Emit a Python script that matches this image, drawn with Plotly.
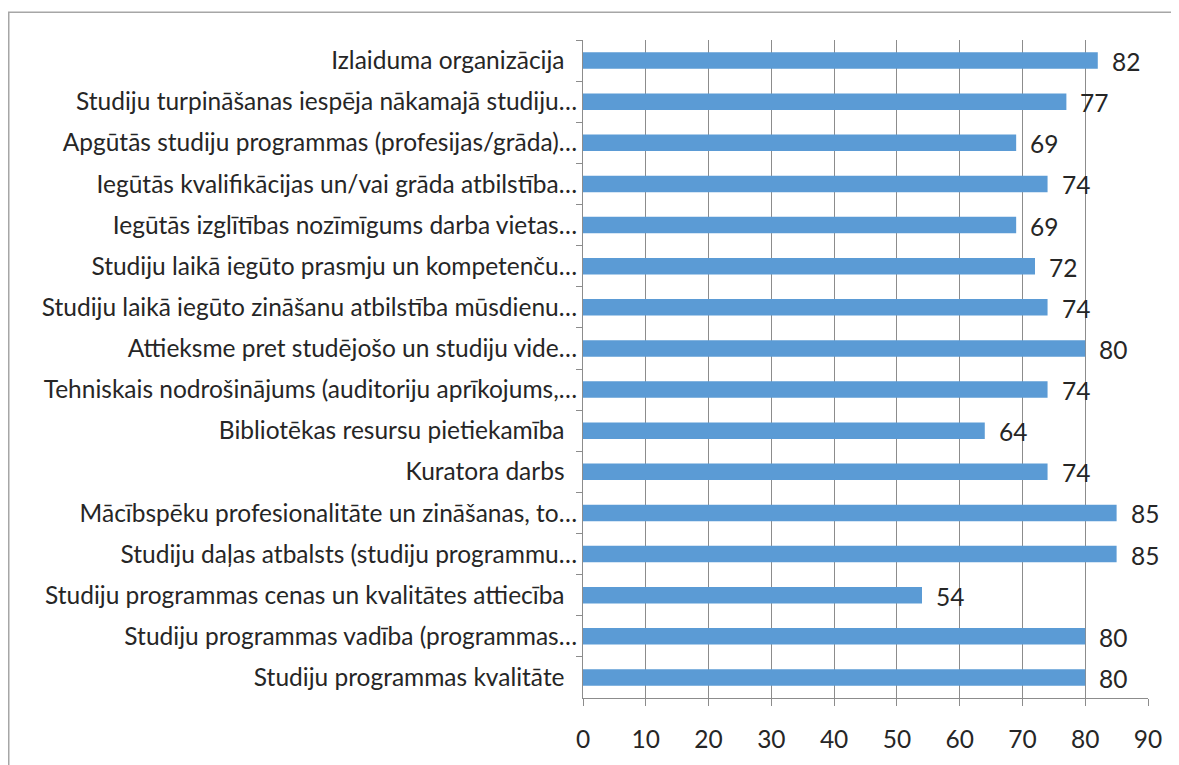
import plotly.graph_objects as go

categories = [
    "Izlaiduma organizācija\u00a0\u00a0",
    "Studiju turpināšanas iespēja nākamajā studiju…",
    "Apgūtās studiju programmas (profesijas/grāda)…",
    "Iegūtās kvalifikācijas un/vai grāda atbilstība…",
    "Iegūtās izglītības nozīmīgums darba vietas…",
    "Studiju laikā iegūto prasmju un kompetenču…",
    "Studiju laikā iegūto zināšanu atbilstība mūsdienu…",
    "Attieksme pret studējošo un studiju vide…",
    "Tehniskais nodrošinājums (auditoriju aprīkojums,…",
    "Bibliotēkas resursu pietiekamība\u00a0\u00a0",
    "Kuratora darbs\u00a0\u00a0",
    "Mācībspēku profesionalitāte un zināšanas, to…",
    "Studiju daļas atbalsts (studiju programmu…",
    "Studiju programmas cenas un kvalitātes attiecība\u00a0\u00a0",
    "Studiju programmas vadība (programmas…",
    "Studiju programmas kvalitāte\u00a0\u00a0",
]
values = [82, 77, 69, 74, 69, 72, 74, 80, 74, 64, 74, 85, 85, 54, 80, 80]
x_ticks = [0, 10, 20, 30, 40, 50, 60, 70, 80, 90]

FONT = "Lato"
FS = 24.5
TXT = "#262626"
GRID = "#8c8c8c"

# page has an 8px body margin; figure coords = page coords - 8
W, H = 1171, 757
L, R, T, B = 575, 31, 32, 61

fig = go.Figure()
fig.add_trace(go.Bar(
    x=values, y=categories, orientation="h",
    marker=dict(color="#5B9BD5", line=dict(width=0)),
    hoverinfo="x+y",
))

for v, c in zip(values, categories):
    fig.add_annotation(x=v, y=c, text=str(v), showarrow=False,
                       xanchor="left", xshift=12, yshift=-1,
                       font=dict(family=FONT, size=FS, color=TXT))

# outer chart border
pw, ph = W - L - R, H - T - B
fig.add_shape(type="rect", xref="paper", yref="paper",
              x0=(0.75 - L) / pw, x1=(W + 20 - L) / pw,
              y0=-(B + 20) / ph, y1=(H - B - 4) / ph,
              line=dict(color="#a6a6a6", width=1.5), fillcolor="rgba(0,0,0,0)",
              layer="below")

fig.update_layout(
    width=W, height=H,
    margin=dict(l=L, r=R, t=T, b=B),
    paper_bgcolor="white", plot_bgcolor="white",
    bargap=0.6,
    showlegend=False,
    font=dict(family=FONT, size=FS, color=TXT),
    xaxis=dict(range=[0, 90], tickvals=x_ticks, ticktext=[str(t) for t in x_ticks],
               showgrid=True, gridcolor=GRID, gridwidth=1,
               showline=True, linecolor=GRID, linewidth=1,
               ticks="outside", ticklen=7, tickcolor=GRID,
               ticklabelstandoff=13, zeroline=False,
               tickfont=dict(family=FONT, size=FS, color=TXT), fixedrange=True),
    yaxis=dict(autorange="reversed", type="category",
               showline=True, linecolor=GRID, linewidth=1,
               ticks="outside", ticklen=6, tickcolor=GRID, tickson="boundaries",
               showgrid=False, ticklabelstandoff=0,
               tickfont=dict(family=FONT, size=FS, color=TXT), fixedrange=True),
)

fig.write_html("out.html")
